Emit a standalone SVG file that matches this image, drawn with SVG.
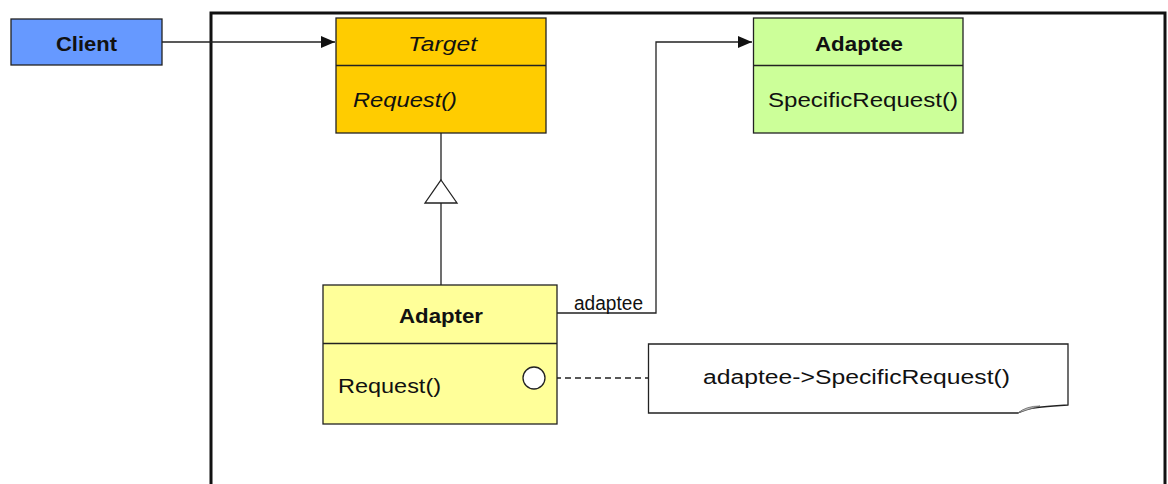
<svg xmlns="http://www.w3.org/2000/svg" width="1168" height="484" viewBox="0 0 1168 484">
<style>
  text { font-family: "Liberation Sans", Arial, sans-serif; font-size: 20px; fill: #111; }
  .b { font-weight: bold; }
  .i { font-style: italic; }
  .box { stroke: #222; stroke-width: 1.3; }
  .ln { fill: none; stroke: #222; stroke-width: 1.3; }
</style>
<defs>
  <marker id="arr" viewBox="0 0 14 12" refX="14" refY="6" markerWidth="14" markerHeight="12" markerUnits="userSpaceOnUse" orient="auto">
    <path d="M0,0 L14,6 L0,12 Z" fill="#111"/>
  </marker>
</defs>
<rect x="0" y="0" width="1168" height="484" fill="#ffffff"/>
<rect id="frame" x="211" y="13" width="954" height="490" fill="none" stroke="#111" stroke-width="3"/>

<g id="connectors">
  <path class="ln" d="M162,42 H335" marker-end="url(#arr)"/>
  <path class="ln" d="M441,133 V180 M441,203 V285"/>
  <polygon points="441,180 457,203 425,203" fill="#fff" stroke="#222" stroke-width="1.3"/>
  <path class="ln" d="M557,313 H656 V42 H752" marker-end="url(#arr)"/>
  <text x="574" y="310" textLength="69" lengthAdjust="spacingAndGlyphs" font-size="18">adaptee</text>
  <path class="ln" d="M545,378 H648" stroke-dasharray="6,4"/>
</g>

<g id="client">
  <rect class="box" x="11" y="19" width="151" height="46" fill="#6699FF"/>
  <text class="b" x="56" y="51" textLength="61" lengthAdjust="spacingAndGlyphs">Client</text>
</g>

<g id="target">
  <rect class="box" x="336" y="18" width="210" height="115" fill="#FFCC00"/>
  <line class="ln" x1="336" y1="65.5" x2="546" y2="65.5"/>
  <text class="i" x="408" y="51" textLength="69" lengthAdjust="spacingAndGlyphs">Target</text>
  <text class="i" x="353" y="107" textLength="104" lengthAdjust="spacingAndGlyphs">Request()</text>
</g>

<g id="adaptee">
  <rect class="box" x="753.5" y="18" width="209.5" height="115" fill="#CCFF99"/>
  <line class="ln" x1="753.5" y1="65.5" x2="963" y2="65.5"/>
  <text class="b" x="815" y="51" textLength="88" lengthAdjust="spacingAndGlyphs">Adaptee</text>
  <text x="768" y="107" textLength="190" lengthAdjust="spacingAndGlyphs">SpecificRequest()</text>
</g>

<g id="adapter">
  <rect class="box" x="323" y="285" width="234" height="139" fill="#FFFF99"/>
  <line class="ln" x1="323" y1="343.5" x2="557" y2="343.5"/>
  <text class="b" x="399" y="323" textLength="84" lengthAdjust="spacingAndGlyphs">Adapter</text>
  <text x="338" y="393" textLength="103" lengthAdjust="spacingAndGlyphs">Request()</text>
  <circle cx="534" cy="378" r="11" fill="#fff" stroke="#222" stroke-width="1.3"/>
</g>

<g id="note">
  <path d="M648.5,344 H1068 V405 C1050,406 1035,407 1028,409 Q1022,411 1018,413 H648.5 Z" fill="#fff" stroke="#222" stroke-width="1.3"/>
  <path d="M1018,413 Q1026,406 1040,406 L1030,409 Z" fill="#bbb" stroke="#666" stroke-width="0.8"/>
  <text x="703" y="384" textLength="307" lengthAdjust="spacingAndGlyphs">adaptee-&gt;SpecificRequest()</text>
</g>
</svg>
